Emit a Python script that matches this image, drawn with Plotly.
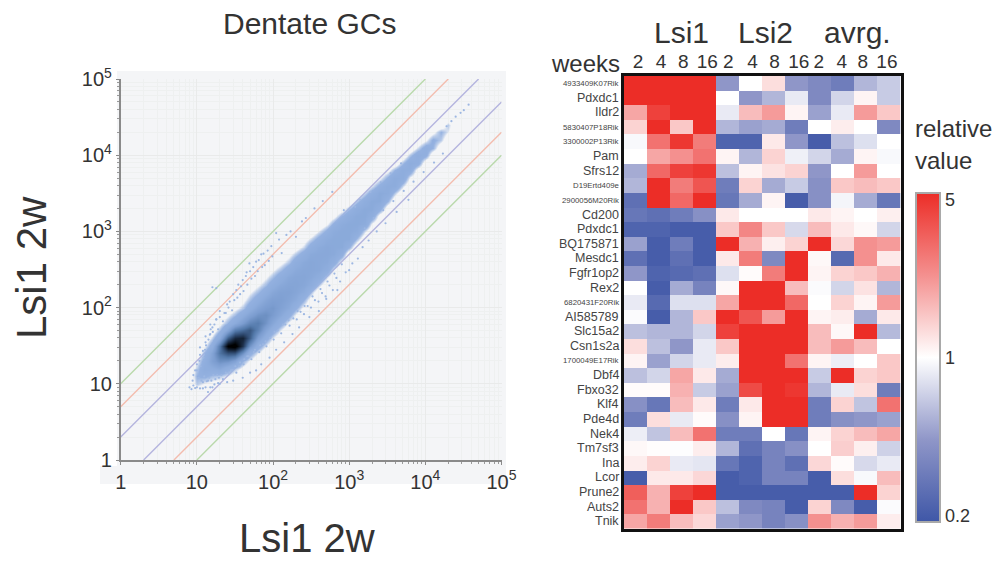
import numpy as np
import plotly.graph_objects as go

W, H = 998, 565
FONT = "Liberation Sans, Arial, sans-serif"

# ---------- left panel data ----------
fold_lines = [(10, "#b9d9ab"), (5, "#f3bcae"), (2, "#b4b4de")]
axis_ticks = [1, 10, 100, 1000, 10000, 100000]
axis_ticktext = ["1", "10", "10<sup>2</sup>", "10<sup>3</sup>", "10<sup>4</sup>", "10<sup>5</sup>"]

# Estimated point density. First item: log10(x)*10.
# Other items: density at log10(y)-log10(x) = -0.6, -0.5 ... +0.7
density_rows = [
    [10, 0,0,0,0,0,0,14,18,14,8,0,0,0,0],
    [11, 0,0,0,0,0,8,20,28,24,18,8,0,0,0],
    [12, 0,0,0,0,6,16,28,38,36,24,12,0,0,0],
    [13, 0,0,0,4,14,32,48,60,58,32,16,6,0,0],
    [14, 0,0,0,10,22,46,70,96,66,36,18,8,0,0],
    [15, 0,0,4,14,38,70,100,82,56,30,16,6,0,0],
    [16, 0,0,6,18,48,78,84,62,42,28,14,6,0,0],
    [17, 0,0,8,22,46,66,68,52,38,26,16,8,0,0],
    [18, 0,0,10,24,40,54,56,46,36,26,16,8,0,0],
    [19, 0,0,10,24,36,46,48,42,35,26,16,8,0,0],
    [20, 0,0,10,24,34,42,44,40,34,26,16,8,0,0],
    [21, 0,0,10,22,33,38,40,38,33,26,16,6,0,0],
    [22, 0,0,8,22,32,36,38,36,33,26,14,6,0,0],
    [23, 0,0,8,20,31,35,36,35,32,26,14,4,0,0],
    [24, 0,0,6,18,30,34,35,34,32,24,12,4,0,0],
    [25, 0,0,4,16,29,33,34,34,32,24,12,0,0,0],
    [26, 0,0,0,14,28,33,33,33,31,22,10,0,0,0],
    [27, 0,0,0,12,27,32,33,33,30,20,8,0,0,0],
    [28, 0,0,0,8,25,32,32,32,30,20,6,0,0,0],
    [29, 0,0,0,6,24,32,32,32,30,18,4,0,0,0],
    [30, 0,0,0,0,20,32,32,32,28,16,0,0,0,0],
    [31, 0,0,0,0,16,30,32,32,28,14,0,0,0,0],
    [32, 0,0,0,0,12,30,32,32,26,12,0,0,0,0],
    [33, 0,0,0,0,8,26,32,32,24,10,0,0,0,0],
    [34, 0,0,0,0,4,22,32,32,22,8,0,0,0,0],
    [35, 0,0,0,0,0,18,30,30,20,6,0,0,0,0],
    [36, 0,0,0,0,0,14,30,30,18,0,0,0,0,0],
    [37, 0,0,0,0,0,12,28,28,16,0,0,0,0,0],
    [38, 0,0,0,0,0,8,26,28,14,0,0,0,0,0],
    [39, 0,0,0,0,0,4,24,26,12,0,0,0,0,0],
    [40, 0,0,0,0,0,0,22,24,8,0,0,0,0,0],
    [41, 0,0,0,0,0,0,18,20,6,0,0,0,0,0],
    [42, 0,0,0,0,0,0,14,18,0,0,0,0,0,0],
    [43, 0,0,0,0,0,0,10,14,0,0,0,0,0,0],
]

# Individual sparse points at the rim of the cloud
rim_x = [8, 8.5, 9, 9.5, 10, 11, 12, 13, 14, 15, 16, 20, 25, 30, 8.8, 9, 9.5, 10, 11, 12, 13, 15, 15, 16, 18,
         20, 25, 30, 35, 40, 45, 50, 60, 70, 85, 110, 49, 200, 130, 40, 50, 60, 70, 90, 110, 140, 180, 220,
         300, 400, 500, 700, 1000, 32000, 37000, 29000, 25000, 22000, 19000, 1400, 1900, 2600, 3500, 4800,
         12, 14, 17, 19, 22, 11, 13, 16, 18, 23, 27, 33, 38, 44, 55, 65, 75, 95, 120, 150, 170, 240, 270,
         350, 450, 600, 850, 1200, 1600, 2100, 2800, 3800, 5200, 7000, 9500, 13000, 17000,
         21, 24, 28, 32, 36, 42, 48, 56, 68, 80, 105, 135, 160, 210, 260, 330, 420, 520, 640, 800,
         10.5, 11.5, 12.5, 13.5, 14.5, 15.5, 16.5, 17.5, 18.5, 19.5, 10, 10.8, 11.2, 12.2, 12.8, 13.2, 14.2, 14.8, 15.2, 16.2,
         17, 18, 19, 20, 22, 24, 26, 29, 31, 34, 37, 41, 46, 52, 58, 63, 72, 78, 88, 98,
         26, 29, 33, 37, 41, 46, 52, 58, 66, 74, 82, 92, 102, 115, 128, 145, 165, 185, 205, 230,
         255, 285, 315, 355, 395, 440, 490, 550, 610, 680, 760, 900, 1100, 1300, 1500, 1800, 2300, 3000, 4200, 6000]
rim_y = [9, 8.5, 9.5, 8.8, 9, 8.7, 8.7, 9, 7.8, 9, 9, 10, 10.5, 11, 11, 13, 15, 18, 24, 27, 35, 45, 60, 185, 180,
         90, 110, 150, 200, 230, 290, 300, 400, 500, 560, 950, 380, 850, 520, 12, 14, 15, 18, 22, 28, 35, 45, 55,
         75, 90, 130, 170, 310, 39000, 46000, 36000, 32000, 28000, 24000, 2600, 3300, 4400, 5800, 7800,
         10.5, 11, 9.8, 10.2, 11.5, 30, 42, 55, 70, 85, 120, 170, 190, 260, 340, 420, 510, 640, 780, 900, 1000, 1350, 1500,
         2000, 2500, 3300, 1900, 2100, 1100, 1500, 1900, 2500, 3400, 4500, 6000, 8000, 10500,
         13, 14, 15, 17, 17, 21, 23, 26, 32, 36, 48, 60, 68, 90, 105, 140, 175, 220, 280, 370,
         12, 11, 12.5, 10.8, 12, 11, 13, 11.5, 13, 12, 15, 20, 17, 22, 28, 32, 38, 44, 52, 48,
         60, 70, 52, 75, 66, 85, 100, 92, 125, 135, 150, 165, 200, 240, 260, 300, 340, 360, 410, 470,
         14, 15, 14, 19, 18, 23, 21, 28, 26, 33, 31, 40, 38, 50, 46, 60, 58, 72, 70, 88,
         82, 105, 100, 125, 120, 155, 140, 195, 170, 245, 220, 290, 380, 440, 620, 760, 1000, 1280, 1800, 2600]

# ---------- right panel data ----------
row_labels = ["4933409K07Rik", "Pdxdc1", "Ildr2", "5830407P18Rik", "3300002P13Rik", "Pam", "Sfrs12",
              "D19Ertd409e", "2900056M20Rik", "Cd200", "Pdxdc1", "BQ175871", "Mesdc1", "Fgfr1op2", "Rex2",
              "6820431F20Rik", "AI585789", "Slc15a2", "Csn1s2a", "1700049E17Rik", "Dbf4", "Fbxo32", "Klf4",
              "Pde4d", "Nek4", "Tm7sf3", "Ina", "Lcor", "Prune2", "Auts2", "Tnik"]
small_labels = ["4933409K07Rik", "5830407P18Rik", "3300002P13Rik", "D19Ertd409e", "2900056M20Rik",
                "6820431F20Rik", "1700049E17Rik"]
week_labels = ["2", "4", "8", "16"] * 3
week_positions = [.13, 1.13, 2.09, 3.13, 4.04, 5.09, 6.04, 7.09, 7.96, 8.96, 9.87, 10.91]
group_labels = [("Lsi1", 681), ("Lsi2", 765), ("avrg.", 857)]

# Relative value as tenths of log5 (+10 = 5, 0 = 1, -10 = 0.2)
log5_tenths = [
    [10,10,10,10,-5,0,1.5,-5,-6,-7,-3.5,-2.5],
    [10,10,10,10,0,-5,-3.5,-1,-6,-2,.5,-2.5],
    [4,9,10,10,-1,3,4.5,.5,-4.5,-1,4.5,2.5],
    [2,10,2.5,10,-3.5,-4.5,-4,-7,0,.8,0,-6],
    [-.3,6.5,9.5,6,-9,-9,1,-5,-9.5,-3,-1.5,0],
    [0,4,5,6.5,.5,-3.5,2,-.7,-2,-4,.5,-.3],
    [-4,7,9,9.5,-3,.5,1.3,2,-5,0,4.5,0],
    [-3.5,10,6,8,-7,2,-4,-2.5,-5.5,2.5,3,2.5],
    [-8,10,7,10,-7.5,-4,.5,-9.5,-5.5,-.5,-4,-7.5],
    [-7.5,-8,-7,-5.5,1,0,0,0,1,.5,0,.7],
    [-9,-9,-9.5,-9.5,2.5,5.5,2.5,-1.8,3,1,.3,-2],
    [-4.5,-9.5,-7,-9.5,10,3.5,.7,2,10,1.8,5,4.5],
    [-8,-9.5,-8,-9.5,1,6,-6,10,.3,-8.5,5,1],
    [-5,-9,-8.5,-8,-1.5,.2,6,10,.5,2,2.5,3.5],
    [0,-9.5,-4,-6.5,.3,10,10,3,-.2,-2,1.3,-3.5],
    [-1,-8.5,-1.5,-1.5,4,10,10,7,0,2,.5,4.5],
    [-.2,-9.5,-3.5,2.5,10,8,4.5,10,.5,.8,-4,1],
    [-3,-3.5,-3.5,-2,9,10,10,10,3,.3,10,-3.3],
    [1.5,-3,-5,-1,2.5,10,10,10,3,4.5,3,0],
    [.5,-4.5,-2,-1,.8,10,10,6.5,.5,-.8,0,2.5],
    [-3,-2,4,1,-4,10,10,10,-2.5,10,2,2.5],
    [.2,.2,3.5,-2.5,-4.5,8.5,10,9.5,-3.5,-1,1.5,-7],
    [-5.5,-7.5,3,1,-7,1,10,10,-7,2,-2.8,6.5],
    [-7,1.5,-1,.2,-5.5,.5,10,10,-7,-5.5,-5,-4.5],
    [-.8,-2.8,3,6.5,-7,-7,0,-7.5,.5,2,3,4],
    [.3,.1,-.1,.8,-3.5,-8,-6.5,-5.5,0,2.2,.7,-2.2],
    [.8,2,-1,-1.2,-7.5,-9,-6.5,-8,1.8,.2,-1.8,-1],
    [-9.5,1,1,1.8,-9.5,-9,-6.5,-6.5,-9.5,1.5,-.3,3],
    [7.5,3.5,9,10,-9.5,-9.5,-9.5,-9.5,-9.5,-9.5,10,2],
    [6.5,3.5,10,2.5,-3,-6,-6.5,-9.5,2,-6,-9.5,-.2],
    [4,6,3,1.8,-4.5,-5,-6.5,-5.5,5,3.5,4.5,.8],
]

# ---------- helpers ----------
px = lambda v: v / W
py = lambda v: 1 - v / H
TEXT = "#333333"

fig = go.Figure()

# fold-change guide lines (under the cloud)
for k, colour in fold_lines:
    fig.add_trace(go.Scatter(x=[1, 1e5 / k], y=[k, 1e5], mode="lines", line=dict(color=colour, width=1.4),
                             showlegend=False, xaxis="x", yaxis="y", hoverinfo="skip"))
    fig.add_trace(go.Scatter(x=[k, 1e5], y=[1, 1e5 / k], mode="lines", line=dict(color=colour, width=1.4),
                             showlegend=False, xaxis="x", yaxis="y", hoverinfo="skip"))

# density cloud
grid = 10 ** (np.arange(0, 51) / 10)
dens = np.zeros((51, 51))
for row in density_rows:
    i = row[0]
    for off, val in zip(range(-6, 8), row[1:]):
        if 0 <= i + off <= 50:
            dens[i + off, i] = val
cloud_scale = [
    [0, "rgba(150,178,224,0)"], [0.09, "rgba(150,178,224,0)"], [0.13, "rgba(155,182,226,0.6)"],
    [0.18, "rgba(148,177,224,1)"], [0.3, "#8dacdc"], [0.42, "#7c9dd0"], [0.58, "#547aab"], [0.72, "#2f4a70"],
    [0.86, "#0f1a2a"], [0.95, "#000000"], [1, "#000000"],
]
fig.add_trace(go.Heatmap(x=grid, y=grid, z=dens, zmin=0, zmax=100, colorscale=cloud_scale, zsmooth="best",
                         showscale=False, xaxis="x3", yaxis="y3", hoverinfo="skip"))
fig.add_trace(go.Scatter(x=rim_x, y=rim_y, mode="markers", marker=dict(color="#9db7e2", size=2.2),
                         showlegend=False, xaxis="x3", yaxis="y3", hoverinfo="skip"))

# gene heatmap
blue_red = [[0, "#3f57a7"], [0.25, "#8f96c8"], [0.5, "#ffffff"], [0.75, "#f4908f"], [1, "#ec2d27"]]
fig.add_trace(go.Heatmap(
    z=log5_tenths, zmin=-10, zmax=10, colorscale=blue_red, xaxis="x2", yaxis="y2",
    xgap=0, ygap=0,
    colorbar=dict(
        x=px(916), xanchor="left", xpad=0, ypad=0, y=py(357.5), yanchor="middle",
        thickness=24, thicknessmode="pixels", len=329, lenmode="pixels",
        outlinecolor="#a9a9a9", outlinewidth=2, ticks="", tickvals=[9.6, 0, -9.6],
        ticktext=["5", "1", "0.2"], tickfont=dict(family=FONT, size=18, color=TEXT), ticklabelposition="outside",
    ),
))

major = dict(type="log", range=[0, 5], tickvals=axis_ticks, ticktext=axis_ticktext,
             tickfont=dict(family=FONT, size=20, color=TEXT), showgrid=True, gridcolor="#e9eaea", gridwidth=1,
             showline=True, linecolor="#8a8a8a", linewidth=1.6, ticks="outside", ticklen=3, tickcolor="#8a8a8a",
             minor=dict(showgrid=True, gridcolor="#eef0f0", gridwidth=1, ticks="outside", ticklen=2, tickcolor="#9a9a9a",
                        tickvals=[m * 10 ** e for e in range(5) for m in range(2, 10)]),
             zeroline=False)

annotations = []
def note(text, x, y, size, xanchor="center", angle=0, color=TEXT):
    annotations.append(dict(text=text, x=px(x), y=py(y), xref="paper", yref="paper", showarrow=False,
                            xanchor=xanchor, yanchor="middle", textangle=angle,
                            font=dict(family=FONT, size=size, color=color)))

note("Dentate GCs", 309, 23, 30)
note("Lsi1 2w", 307, 538, 40)
note("Lsi1 2w", 32, 268, 42, angle=-90)
for name, cx in group_labels:
    note(name, cx, 32, 30)
note("weeks", 622, 63, 24, xanchor="right")
note("relative", 913, 129, 24, xanchor="left")
note("value", 913, 160, 24, xanchor="left")
for idx, label in enumerate(row_labels):
    small = label in small_labels
    annotations.append(dict(text=label, x=px(620.5), xref="paper", y=idx, yref="y2", showarrow=False,
                            xanchor="right", yanchor="middle",
                            font=dict(family=FONT, size=7.8 if small else 12.5, color="#444444")))

fig.update_layout(
    width=W, height=H, margin=dict(l=0, r=0, t=0, b=0, pad=0, autoexpand=False), autosize=False,
    paper_bgcolor="white", plot_bgcolor="rgba(0,0,0,0)", showlegend=False,
    xaxis=dict(domain=[px(120.7), px(501.5)], anchor="y", **major),
    yaxis=dict(domain=[py(460), py(79)], anchor="x", **major),
    xaxis3=dict(domain=[px(120.7), px(501.5)], type="log", range=[0, 5], overlaying="x", anchor="y3", visible=False),
    yaxis3=dict(domain=[py(460), py(79)], type="log", range=[0, 5], overlaying="y", anchor="x3", visible=False),
    xaxis2=dict(domain=[px(623.5), px(900.5)], anchor="y2", side="top", range=[-0.5, 11.5],
                tickvals=week_positions, ticktext=week_labels, tickfont=dict(family=FONT, size=19, color=TEXT),
                ticklabelstandoff=-2,
                ticks="", showgrid=False, zeroline=False, showline=True, linecolor="#111111", linewidth=2.5, mirror=True),
    yaxis2=dict(domain=[py(528.5), py(76)], anchor="x2", range=[30.5, -0.5], showticklabels=False, ticks="",
                showgrid=False, zeroline=False, showline=True, linecolor="#111111", linewidth=2.5, mirror=True),
    shapes=[
        dict(type="rect", xref="paper", yref="paper", x0=px(117), x1=px(506), y0=py(484), y1=py(71),
             fillcolor="#f4f5f7", line=dict(width=0), layer="below"),
        dict(type="rect", xref="paper", yref="paper", x0=px(100), x1=px(117), y0=py(484), y1=py(466),
             fillcolor="#f4f5f7", line=dict(width=0), layer="below"),
    ],
    annotations=annotations,
)

fig.write_html("out.html", config={"displayModeBar": False}, post_script="document.body.style.margin='0';")
